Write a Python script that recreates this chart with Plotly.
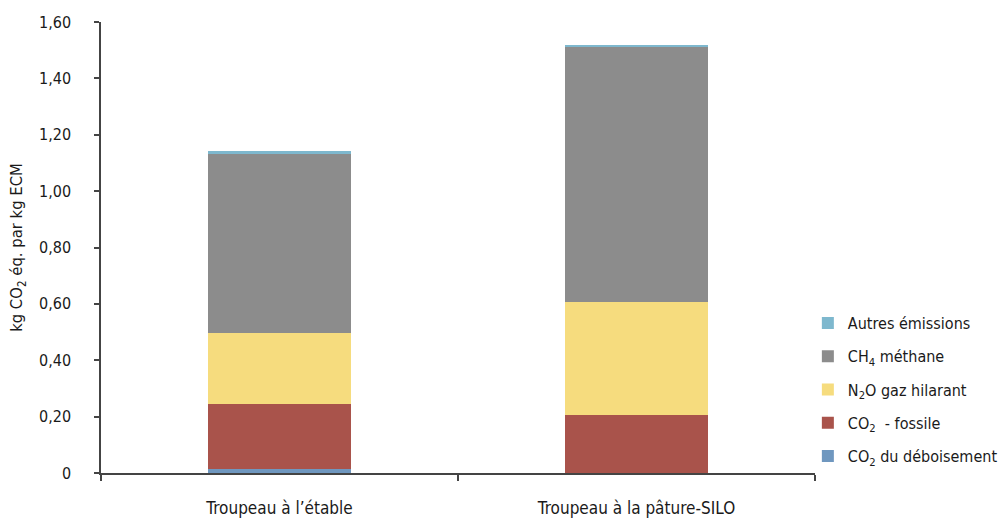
import plotly.graph_objects as go

# Émissions par kg ECM, ventilées par source
categories = ["Troupeau à l’étable", "Troupeau à la pâture-SILO"]
co2_deboisement = [0.015, 0.0]
co2_fossile = [0.230, 0.205]
n2o_gaz_hilarant = [0.250, 0.400]
ch4_methane = [0.640, 0.905]
autres_emissions = [0.007, 0.008]

y_tick_values = [0, 0.2, 0.4, 0.6, 0.8, 1.0, 1.2, 1.4, 1.6]
y_tick_labels = ["0", "0,20", "0,40", "0,60", "0,80", "1,00", "1,20", "1,40", "1,60"]

FONT = "DejaVu Sans Condensed, Liberation Sans Narrow, sans-serif"
TEXT = "#1a1a1a"

# stacked bottom to top; the legend lists them top to bottom
series = [
    ("CO<sub>2</sub> du déboisement", co2_deboisement, "#6F97BF"),
    ("CO<sub>2</sub>  - fossile", co2_fossile, "#A9534B"),
    ("N<sub>2</sub>O gaz hilarant", n2o_gaz_hilarant, "#F6DC7E"),
    ("CH<sub>4</sub> méthane", ch4_methane, "#8C8C8C"),
    ("Autres émissions", autres_emissions, "#7EB8CE"),
]

fig = go.Figure()
n = len(series)
for i, (name, values, color) in enumerate(series):
    fig.add_trace(go.Bar(
        x=categories, y=values, name=name,
        legendgroup=f"g{i}", legendrank=1000 + (n - i),
        marker=dict(color=color, line=dict(width=0)),
        width=0.4,
    ))

fig.update_layout(
    barmode="stack",
    width=1003, height=518,
    margin=dict(l=101, r=188, t=22, b=45, autoexpand=False),
    plot_bgcolor="white", paper_bgcolor="white",
    font=dict(family=FONT, size=16, color=TEXT),
    showlegend=True,
    legend=dict(
        traceorder="grouped",
        x=0.99, xanchor="left", y=0.0, yanchor="bottom",
        font=dict(family=FONT, size=16, color=TEXT),
        itemwidth=30, tracegroupgap=9.5,
        bgcolor="rgba(0,0,0,0)",
    ),
    xaxis=dict(
        showline=True, linecolor="#444", linewidth=1.5,
        ticks="outside", tickson="boundaries", ticklen=6,
        tickcolor="#444", tickwidth=1.5,
        ticklabelstandoff=19, automargin=False,
        tickfont=dict(family=FONT, size=17, color=TEXT),
        showgrid=False, zeroline=False,
    ),
    yaxis=dict(
        range=[0, 1.6],
        tickvals=y_tick_values, ticktext=y_tick_labels,
        showline=True, linecolor="#444", linewidth=1.5,
        ticks="outside", ticklen=5, tickcolor="#444", tickwidth=1.5,
        ticklabelstandoff=20, automargin=False,
        tickfont=dict(family=FONT, size=16, color=TEXT),
        showgrid=False, zeroline=False,
        title=dict(text="kg CO<sub>2</sub> éq. par kg ECM", standoff=12,
                   font=dict(family=FONT, size=16.5, color=TEXT)),
    ),
)

fig.write_html("out.html")
